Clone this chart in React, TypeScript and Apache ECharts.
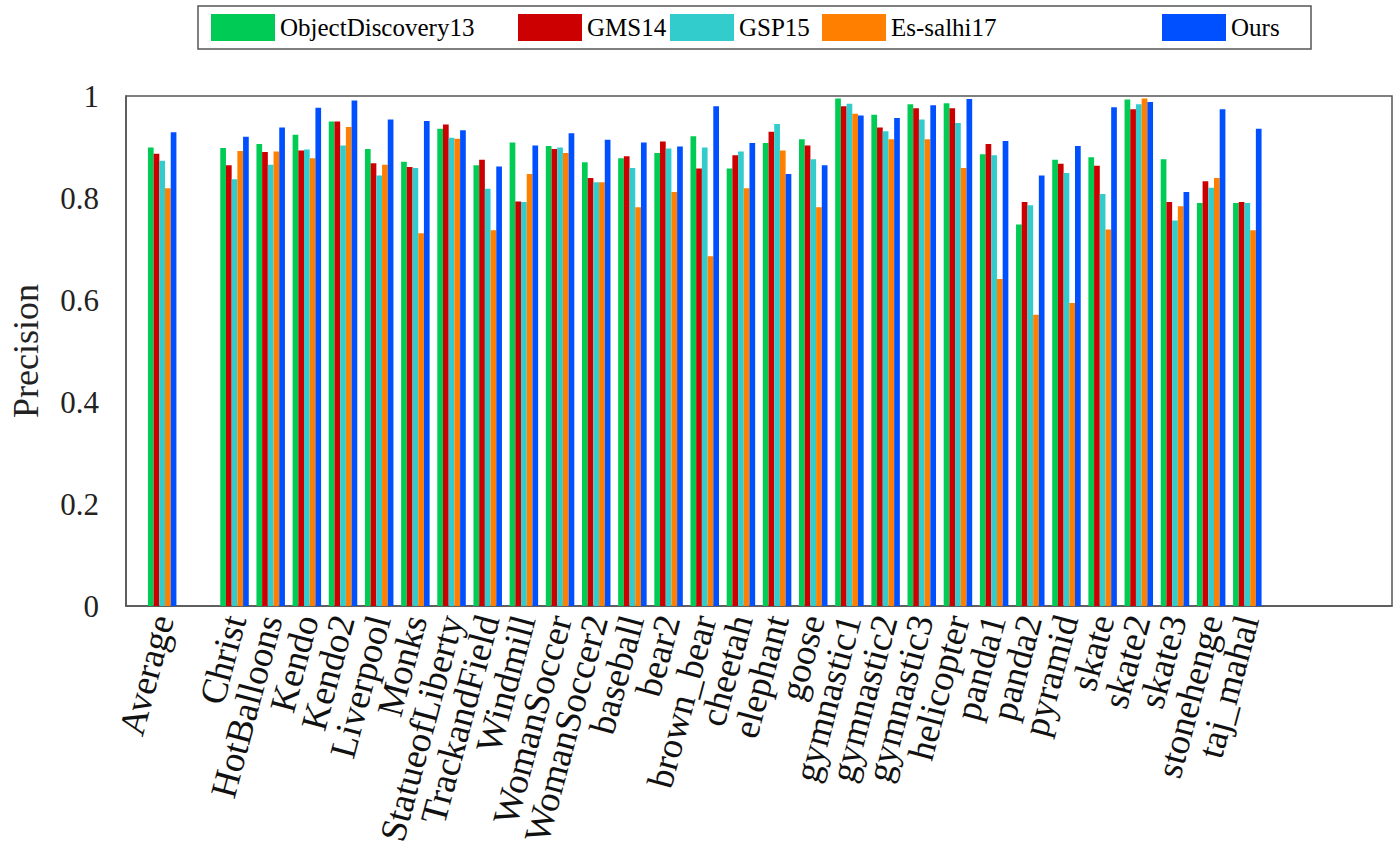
import React, { useEffect, useRef } from "react";
import * as echarts from "echarts";

const categories = [
  "Average", "Christ", "HotBalloons", "Kendo", "Kendo2", "Liverpool", "Monks",
  "StatueofLiberty", "TrackandField", "Windmill", "WomanSoccer", "WomanSoccer2",
  "baseball", "bear2", "brown_bear", "cheetah", "elephant", "goose", "gymnastic1",
  "gymnastic2", "gymnastic3", "helicopter", "panda1", "panda2", "pyramid", "skate",
  "skate2", "skate3", "stonehenge", "taj_mahal",
];

const objectDiscovery13 = [
  0.899, 0.898, 0.906, 0.924, 0.950, 0.896, 0.871, 0.936, 0.864, 0.909, 0.902, 0.870,
  0.878, 0.888, 0.921, 0.858, 0.908, 0.915, 0.995, 0.963, 0.984, 0.986, 0.886, 0.748,
  0.875, 0.880, 0.993, 0.876, 0.790, 0.790,
];
const gms14 = [
  0.887, 0.864, 0.890, 0.893, 0.950, 0.868, 0.861, 0.944, 0.875, 0.793, 0.896, 0.839,
  0.882, 0.911, 0.858, 0.884, 0.930, 0.903, 0.980, 0.938, 0.976, 0.976, 0.906, 0.792,
  0.867, 0.863, 0.974, 0.792, 0.833, 0.792,
];
const gsp15 = [
  0.873, 0.837, 0.865, 0.895, 0.903, 0.844, 0.859, 0.918, 0.818, 0.792, 0.899, 0.831,
  0.859, 0.897, 0.899, 0.891, 0.945, 0.876, 0.985, 0.931, 0.954, 0.947, 0.884, 0.786,
  0.849, 0.808, 0.984, 0.756, 0.820, 0.790,
];
const esSalhi17 = [
  0.819, 0.892, 0.891, 0.878, 0.939, 0.865, 0.731, 0.916, 0.737, 0.847, 0.888, 0.831,
  0.782, 0.812, 0.686, 0.819, 0.893, 0.782, 0.965, 0.915, 0.915, 0.859, 0.641, 0.571,
  0.594, 0.738, 0.995, 0.784, 0.839, 0.737,
];
const ours = [
  0.929, 0.920, 0.938, 0.977, 0.991, 0.954, 0.951, 0.933, 0.862, 0.903, 0.927, 0.914,
  0.909, 0.901, 0.980, 0.908, 0.847, 0.864, 0.962, 0.957, 0.982, 0.994, 0.912, 0.844,
  0.902, 0.978, 0.988, 0.812, 0.974, 0.936,
];

const seriesNames = ["ObjectDiscovery13", "GMS14", "GSP15", "Es-salhi17", "Ours"];
const seriesColors = ["#00cc55", "#cc0000", "#33cccc", "#ff8000", "#0050ff"];
const seriesValues = [objectDiscovery13, gms14, gsp15, esSalhi17, ours];
const legendLefts = [211, 518, 670, 822, 1162];

const FONT = "Liberation Serif";

// axis slots: blank, Average, blank, rest..., then 4 blanks
function padCats(): string[] {
  return ["", categories[0], "", ...categories.slice(1), "", "", "", ""];
}
function padVals(v: number[]): (number | string)[] {
  return ["-", v[0], "-", ...v.slice(1), "-", "-", "-", "-"];
}

export default function App() {
  const ref = useRef<HTMLDivElement>(null);
  useEffect(() => {
    if (!ref.current) return;
    const chart = echarts.init(ref.current, undefined, { renderer: "svg" });
    chart.setOption({
      animation: false,
      backgroundColor: "#ffffff",
      grid: {
        left: 122,
        right: 6,
        top: 96,
        bottom: 249,
        show: true,
        borderColor: "#555555",
        borderWidth: 1.5,
        backgroundColor: "transparent",
      },
      legend: seriesNames.map((n, i) => ({
        data: [n],
        left: legendLefts[i],
        top: 14,
        padding: 0,
        itemWidth: 64,
        itemHeight: 27,
        icon: "rect",
        selectedMode: false,
        textStyle: { fontFamily: FONT, fontSize: 25, color: "#000" },
      })),
      graphic: [
        {
          type: "rect",
          shape: { x: 198, y: 6, width: 1113, height: 43 },
          style: { fill: "none", stroke: "#555555", lineWidth: 1.5 },
          z: -1,
        },
      ],
      xAxis: {
        type: "category",
        data: padCats(),
        boundaryGap: false,
        axisLine: { show: true, lineStyle: { color: "#555555", width: 1.5 } },
        axisTick: { show: false },
        splitLine: { show: false },
        axisLabel: {
          interval: 0,
          rotate: 75,
          margin: 10,
          fontFamily: FONT,
          fontSize: 37,
          color: "#111",
        },
      },
      yAxis: {
        type: "value",
        min: 0,
        max: 1,
        interval: 0.2,
        name: "Precision",
        nameLocation: "middle",
        nameGap: 82,
        nameTextStyle: { fontFamily: FONT, fontSize: 36, color: "#222" },
        axisLine: { show: true, lineStyle: { color: "#555555", width: 1.5 } },
        axisTick: { show: false },
        splitLine: { show: false },
        axisLabel: { margin: 27, fontFamily: FONT, fontSize: 31, color: "#222" },
      },
      series: seriesNames.map((n, i) => ({
        name: n,
        type: "bar",
        data: padVals(seriesValues[i]),
        barWidth: 5.7,
        barGap: "0%",
        itemStyle: { color: seriesColors[i] },
      })),
    });
    return () => chart.dispose();
  }, []);
  return (
    <div
      ref={ref}
      style={{ position: "fixed", left: 0, top: 0, width: 1398, height: 855, background: "#fff" }}
    />
  );
}
